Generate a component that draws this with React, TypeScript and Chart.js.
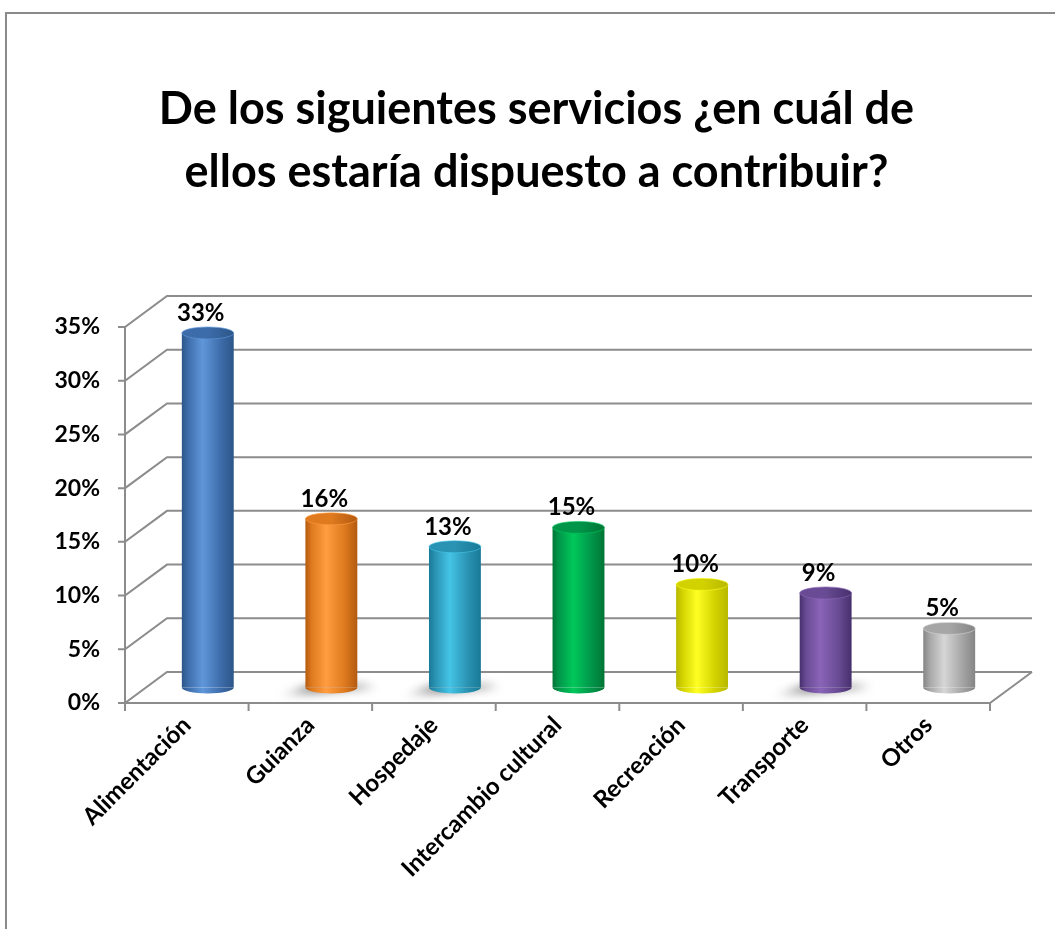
import React, { useEffect, useRef } from "react";
import { Chart, registerables } from "chart.js";

Chart.register(...registerables);

const categories = [
  "Alimentación",
  "Guianza",
  "Hospedaje",
  "Intercambio cultural",
  "Recreación",
  "Transporte",
  "Otros",
];
const values = [0.33, 0.157, 0.131, 0.149, 0.096, 0.088, 0.055];
const valueLabels = ["33%", "16%", "13%", "15%", "10%", "9%", "5%"];
const yTickLabels = ["0%", "5%", "10%", "15%", "20%", "25%", "30%", "35%"];
const titleLines = [
  "De los siguientes servicios ¿en cuál de",
  "ellos estaría dispuesto a contribuir?",
];

// styles (not data)
const palette = [
  { dark: "#2C5689", light: "#6097DA", top: "#3D6CAA" },
  { dark: "#B35A10", light: "#FF9D40", top: "#DF7A1F" },
  { dark: "#187A97", light: "#44C4E6", top: "#2A92B2" },
  { dark: "#007535", light: "#00C85A", top: "#00964A" },
  { dark: "#B8B800", light: "#FFFF24", top: "#D2D200" },
  { dark: "#472F6C", light: "#8A64B8", top: "#684B94" },
  { dark: "#858585", light: "#D6D6D6", top: "#A6A6A6" },
];
const shadowed = [false, true, true, false, false, true, false];

const FONT = "Lato, 'Open Sans', sans-serif";
const DX = 42;
const DY = 31;
const GRID = "#8C8C8C";

function bodyGradient(ctx: CanvasRenderingContext2D, cx: number, w: number, i: number) {
  const p = palette[i];
  const g = ctx.createLinearGradient(cx - w / 2, 0, cx + w / 2, 0);
  g.addColorStop(0, p.dark);
  g.addColorStop(0.12, p.top);
  g.addColorStop(0.4, p.light);
  g.addColorStop(0.75, p.top);
  g.addColorStop(1, p.dark);
  return g;
}

const threeDPlugin = {
  id: "threeD",
  beforeDraw(chart: any) {
    const ctx = chart.ctx as CanvasRenderingContext2D;
    ctx.save();
    ctx.fillStyle = "#ffffff";
    ctx.fillRect(0, 0, chart.width, chart.height);
    ctx.strokeStyle = "#8A8A8A";
    ctx.lineWidth = 2;
    ctx.strokeRect(6, 13, chart.width + 20, chart.height + 20);
    ctx.restore();
  },
  beforeDatasetsDraw(chart: any) {
    const ctx = chart.ctx as CanvasRenderingContext2D;
    const area = chart.chartArea;
    const y = chart.scales.y;
    ctx.save();
    ctx.strokeStyle = GRID;
    ctx.lineWidth = 2;
    ctx.beginPath();
    ctx.moveTo(area.left, area.top);
    ctx.lineTo(area.left, area.bottom);
    y.ticks.forEach((t: any) => {
      const py = y.getPixelForValue(t.value);
      ctx.moveTo(area.left - 7, py);
      ctx.lineTo(area.left, py);
      ctx.lineTo(area.left + DX, py - DY);
      ctx.lineTo(area.right + DX, py - DY);
    });
    ctx.moveTo(area.left, area.bottom);
    ctx.lineTo(area.right, area.bottom);
    ctx.lineTo(area.right + DX, area.bottom - DY);
    const n = categories.length;
    const cw = (area.right - area.left) / n;
    for (let i = 0; i <= n; i++) {
      const px = area.left + i * cw;
      ctx.moveTo(px, area.bottom);
      ctx.lineTo(px, area.bottom + 8);
    }
    ctx.stroke();

    const meta = chart.getDatasetMeta(0);
    meta.data.forEach((el: any, i: number) => {
      if (!shadowed[i]) return;
      const cx = el.x + DX / 2;
      const by = el.base - DY / 2;
      const w = el.width;
      ctx.save();
      ctx.filter = "blur(4px)";
      const g = ctx.createLinearGradient(cx - w / 2 - 28, 0, cx + w / 2 + 22, 0);
      g.addColorStop(0, "rgba(0,0,0,0)");
      g.addColorStop(0.35, "rgba(0,0,0,0.45)");
      g.addColorStop(0.8, "rgba(0,0,0,0.3)");
      g.addColorStop(1, "rgba(0,0,0,0)");
      ctx.fillStyle = g;
      ctx.beginPath();
      ctx.moveTo(cx - w / 2 - 28, by + 9);
      ctx.lineTo(cx + w / 2 + 22, by + 1);
      ctx.lineTo(cx + w / 2 + 10, by - 4);
      ctx.lineTo(cx - w / 2, by - 2);
      ctx.closePath();
      ctx.fill();
      ctx.restore();
    });
    ctx.restore();

    ctx.save();
    ctx.translate(DX / 2, -DY / 2);
  },
  afterDatasetsDraw(chart: any) {
    const ctx = chart.ctx as CanvasRenderingContext2D;
    const meta = chart.getDatasetMeta(0);
    const ry = 6;
    meta.data.forEach((el: any, i: number) => {
      const cx = el.x;
      const w = el.width;
      const rx = w / 2;
      ctx.fillStyle = bodyGradient(ctx, cx, w, i);
      ctx.beginPath();
      ctx.ellipse(cx, el.base, rx, ry, 0, 0, Math.PI);
      ctx.fill();
      const tg = ctx.createLinearGradient(cx - rx, 0, cx + rx, 0);
      tg.addColorStop(0, palette[i].top);
      tg.addColorStop(0.5, palette[i].top);
      tg.addColorStop(1, palette[i].dark);
      ctx.fillStyle = tg;
      ctx.beginPath();
      ctx.ellipse(cx, el.y, rx, ry, 0, 0, Math.PI * 2);
      ctx.fill();
      ctx.strokeStyle = palette[i].light;
      ctx.globalAlpha = 0.6;
      ctx.lineWidth = 1;
      ctx.stroke();
      ctx.globalAlpha = 1;
      ctx.fillStyle = "#000";
      ctx.font = `bold 24px ${FONT}`;
      ctx.textAlign = "center";
      ctx.textBaseline = "alphabetic";
      ctx.fillText(valueLabels[i], cx - 7, el.y - 12);
    });
    ctx.restore();
  },
};

export default function App() {
  const ref = useRef<HTMLCanvasElement | null>(null);
  useEffect(() => {
    document.body.style.margin = "0";
    const canvas = ref.current;
    if (!canvas) return;
    const chart = new Chart(canvas, {
      type: "bar",
      data: {
        labels: categories,
        datasets: [
          {
            data: values,
            clip: false as any,
            backgroundColor: (c: any) => {
              const xs = c.chart.scales?.x;
              const area = c.chart.chartArea;
              if (!xs || !area || c.dataIndex === undefined) return palette[0].light;
              const cw = (area.right - area.left) / categories.length;
              const cx = xs.getPixelForValue(c.dataIndex);
              return bodyGradient(c.chart.ctx, cx, cw * 0.42, c.dataIndex);
            },
            borderWidth: 0,
            barPercentage: 0.42,
            categoryPercentage: 1,
          },
        ],
      },
      options: {
        responsive: false,
        animation: false,
        devicePixelRatio: 1,
        layout: { padding: { left: 18, right: 0, top: 12, bottom: 0 } },
        plugins: {
          legend: { display: false },
          tooltip: { enabled: false },
          title: {
            display: true,
            text: titleLines,
            color: "#000",
            font: { family: FONT, weight: "bold", size: 45, lineHeight: 1.4 },
            padding: { top: 66, bottom: 123 },
          },
        },
        scales: {
          x: {
            grid: { display: false, drawTicks: false },
            border: { display: false },
            ticks: {
              color: "#000",
              font: { family: FONT, weight: "bold", size: 24 },
              minRotation: 45,
              maxRotation: 45,
              padding: 8,
              autoSkip: false,
            },
            afterFit: (s: any) => {
              s.height = 226;
            },
          },
          y: {
            min: 0,
            max: 0.35,
            grid: { display: false, drawTicks: false },
            border: { display: false },
            ticks: {
              stepSize: 0.05,
              color: "#000",
              font: { family: FONT, weight: "bold", size: 23 },
              padding: 25,
              callback: (_v: any, idx: number) => yTickLabels[idx],
            },
            afterFit: (s: any) => {
              s.width = 107;
            },
          },
          yRight: {
            type: "linear",
            position: "right",
            display: true,
            grid: { display: false, drawTicks: false },
            border: { display: false },
            ticks: { display: false },
            afterFit: (s: any) => {
              s.width = 65;
            },
          },
        },
      },
      plugins: [threeDPlugin],
    });
    return () => chart.destroy();
  }, []);
  return (
    <div style={{ width: 1055, height: 929 }}>
      <canvas ref={ref} width={1055} height={929} style={{ display: "block" }} />
    </div>
  );
}
